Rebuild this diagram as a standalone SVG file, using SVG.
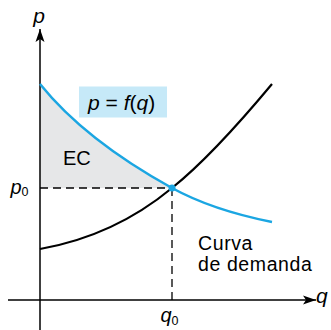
<svg xmlns="http://www.w3.org/2000/svg" width="331" height="330" viewBox="0 0 331 330">
<defs>
<marker id="arr" markerUnits="userSpaceOnUse" markerWidth="16" markerHeight="12" refX="14" refY="6" orient="auto">
<path d="M14,6 L1,1.5 L4,6 L1,10.5 Z" fill="#000"/>
</marker>
<style>
.ax{stroke:#000;stroke-width:1.5;fill:none}
.dash{stroke:#000;stroke-width:1.3;fill:none;stroke-dasharray:8 5}
.blk{stroke:#000;stroke-width:2.2;fill:none}
.blu{stroke:#1ba6e2;stroke-width:2.5;fill:none}
.t{font-family:"Liberation Sans",Arial,sans-serif;fill:#000}
.i{font-style:italic}
.cv{font-size:19.5px;letter-spacing:0.6px}
</style>
</defs>
<rect width="331" height="330" fill="#fff"/>
<g id="surplus">
<path d="M40,84 Q85,140 172,188 L40,188 Z" fill="#e6e7e8"/>
<text class="t" x="63" y="165" font-size="20">EC</text>
</g>
<g id="connectors">
<line class="ax" x1="40" y1="330" x2="40" y2="29" marker-end="url(#arr)"/>
<line class="ax" x1="8" y1="300" x2="316" y2="300" marker-end="url(#arr)"/>
<line class="dash" x1="40" y1="188" x2="172" y2="188"/>
<line class="dash" x1="172" y1="188" x2="172" y2="300"/>
</g>
<g id="supply">
<path class="blk" d="M40,249 Q114,236 172,188 Q212,156 272,84"/>
</g>
<g id="demand">
<path class="blu" d="M40,84 Q85,140 172,188 Q212,210 272,222"/>
<circle cx="172" cy="188" r="3.5" fill="#1ba6e2"/>
</g>
<g id="label-f">
<rect x="79" y="86.5" width="88" height="31" fill="#c6e9f8"/>
<text class="t" x="88" y="110" font-size="21"><tspan class="i">p</tspan> = <tspan class="i">f</tspan>(<tspan class="i">q</tspan>)</text>
</g>
<g id="labels">
<text class="t i" x="39" y="23" font-size="21" text-anchor="middle">p</text>
<text class="t i" x="316" y="303" font-size="21">q</text>
<text class="t i" x="10.5" y="193.5" font-size="20">p</text>
<text class="t" x="21.5" y="195.5" font-size="12.5">0</text>
<text class="t i" x="160.5" y="321.5" font-size="20">q</text>
<text class="t" x="171.5" y="325" font-size="12.5">0</text>
<text class="t cv" x="198" y="249.5">Curva</text>
<text class="t cv" x="198" y="271">de demanda</text>
</g>
</svg>
